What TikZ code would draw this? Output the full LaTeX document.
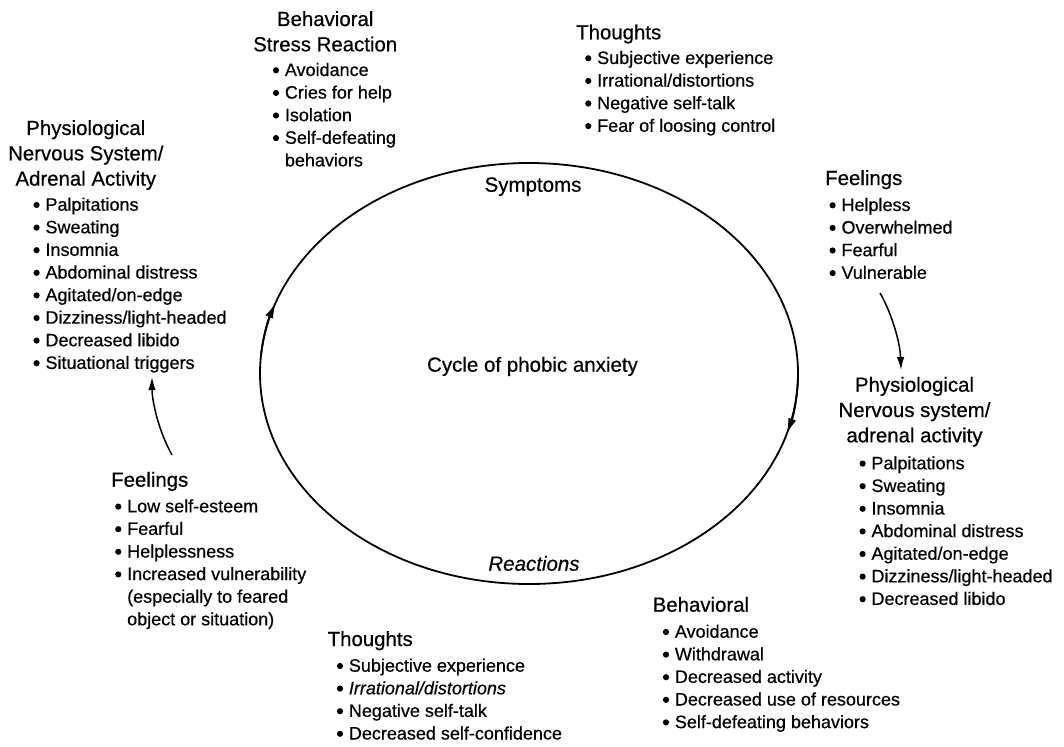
\documentclass[tikz,border=0pt]{standalone}
\usepackage{fontspec}
\setmainfont{Liberation Sans}[FakeBold=0.5]
\usetikzlibrary{shapes.geometric,arrows.meta}

% round bullet with fixed hang, and matching indent for wrapped lines
\newcommand\bl{\makebox[12pt][l]{\raisebox{2.6pt}{\tikz\fill (0pt,0pt) circle[radius=3.1pt];}}}
\newcommand\cont{\hspace*{12pt}}
\newcommand\lst[1]{\begin{tabular}[t]{@{}l@{}}#1\end{tabular}}
\newcommand\ctr[1]{\begin{tabular}[t]{@{}c@{}}#1\end{tabular}}

\tikzset{
  ttl/.style={inner sep=0pt, font=\fontsize{20.4}{25.3}\selectfont},
  itm/.style={inner sep=0pt, anchor=base west, font=\fontsize{18}{22.6}\selectfont},
  lbl/.style={inner sep=0pt, anchor=base, font=\fontsize{20.5}{24}\selectfont},
  tip/.style={-{Latex[length=13pt,width=7.5pt]}},
  bigtip/.style={-{Latex[length=15pt,width=8.5pt]}},
  link/.style={line width=1.5pt, tip},
}

\begin{document}
\begin{tikzpicture}[x=1pt, y=-1pt]
\useasboundingbox (0,0) rectangle (1064,746);

% the cycle
\node[draw, ellipse, minimum width=538pt, minimum height=421pt, inner sep=0pt,
      line width=1.8pt] (cycle) at (529,373.5) {};
\draw[bigtip, line width=1.8pt] (cycle.center) ++(185:269 and 210.5)
  arc[start angle=185, end angle=199.5, x radius=269, y radius=210.5];
\draw[bigtip, line width=1.8pt] (cycle.center) ++(2:269 and 210.5)
  arc[start angle=2, end angle=16.5, x radius=269, y radius=210.5];

\node[lbl] (symptoms) at (533,191.7) {Symptoms};
\node[lbl] (title) at (532.5,371.7) {Cycle of phobic anxiety};
\node[lbl] (reactions) at (534,570.7) {\itshape Reactions};

% Behavioral stress reaction (top)
\node[ttl, anchor=base] (bsr-t) at (325.2,26) {\ctr{Behavioral\\ Stress Reaction}};
\node[itm] (bsr-l) at (272.7,76) {\lst{\bl Avoidance\\ \bl Cries for help\\ \bl Isolation\\
  \bl Self-defeating\\ \cont behaviors}};

% Thoughts (top)
\node[ttl, anchor=base west] (tht-t) at (576,39.3) {Thoughts};
\node[itm] (tht-l) at (585,64) {\lst{\bl Subjective experience\\ \bl Irrational/distortions\\
  \bl Negative self-talk\\ \bl Fear of loosing control}};

% Physiological (left)
\node[ttl, anchor=base] (phl-t) at (85.8,135) {\ctr{Physiological\\ Nervous System/\\ Adrenal Activity}};
\node[itm] (phl-l) at (33.3,210.7) {\lst{\bl Palpitations\\ \bl Sweating\\ \bl Insomnia\\
  \bl Abdominal distress\\ \bl Agitated/on-edge\\ \bl Dizziness/light-headed\\
  \bl Decreased libido\\ \bl Situational triggers}};

% Feelings (right)
\node[ttl, anchor=base west] (fer-t) at (825,185) {Feelings};
\node[itm] (fer-l) at (829.3,211) {\lst{\bl Helpless\\ \bl Overwhelmed\\ \bl Fearful\\ \bl Vulnerable}};

% Physiological (right)
\node[ttl, anchor=base] (phr-t) at (914.5,391.7) {\ctr{Physiological\\ Nervous system/\\ adrenal activity}};
\node[itm] (phr-l) at (859.3,469.3) {\lst{\bl Palpitations\\ \bl Sweating\\ \bl Insomnia\\
  \bl Abdominal distress\\ \bl Agitated/on-edge\\ \bl Dizziness/light-headed\\
  \bl Decreased libido}};

% Feelings (left)
\node[ttl, anchor=base west] (fel-t) at (111,486.7) {Feelings};
\node[itm] (fel-l) at (115,512.3) {\lst{\bl Low self-esteem\\ \bl Fearful\\ \bl Helplessness\\
  \bl Increased vulnerability\\ \cont (especially to feared\\ \cont object or situation)}};

% Thoughts (bottom)
\node[ttl, anchor=base west] (thb-t) at (327.5,646) {Thoughts};
\node[itm] (thb-l) at (336.7,671.7) {\lst{\bl Subjective experience\\ \bl \textit{Irrational/distortions}\\
  \bl Negative self-talk\\ \bl Decreased self-confidence}};

% Behavioral (bottom)
\node[ttl, anchor=base west] (beh-t) at (652.5,611.7) {Behavioral};
\node[itm] (beh-l) at (662.7,637.7) {\lst{\bl Avoidance\\ \bl Withdrawal\\ \bl Decreased activity\\
  \bl Decreased use of resources\\ \bl Self-defeating behaviors}};

% links between the outer groups
\coordinate (fel-out) at (172,455);
\coordinate (phl-in) at (152,377);
\draw[link] (fel-out) .. controls (158,430) and (152,400) .. (phl-in);

\coordinate (fer-out) at (880,293);
\coordinate (phr-in) at (901,370);
\draw[link] (fer-out) .. controls (890,310) and (900,340) .. (phr-in);
\end{tikzpicture}
\end{document}
